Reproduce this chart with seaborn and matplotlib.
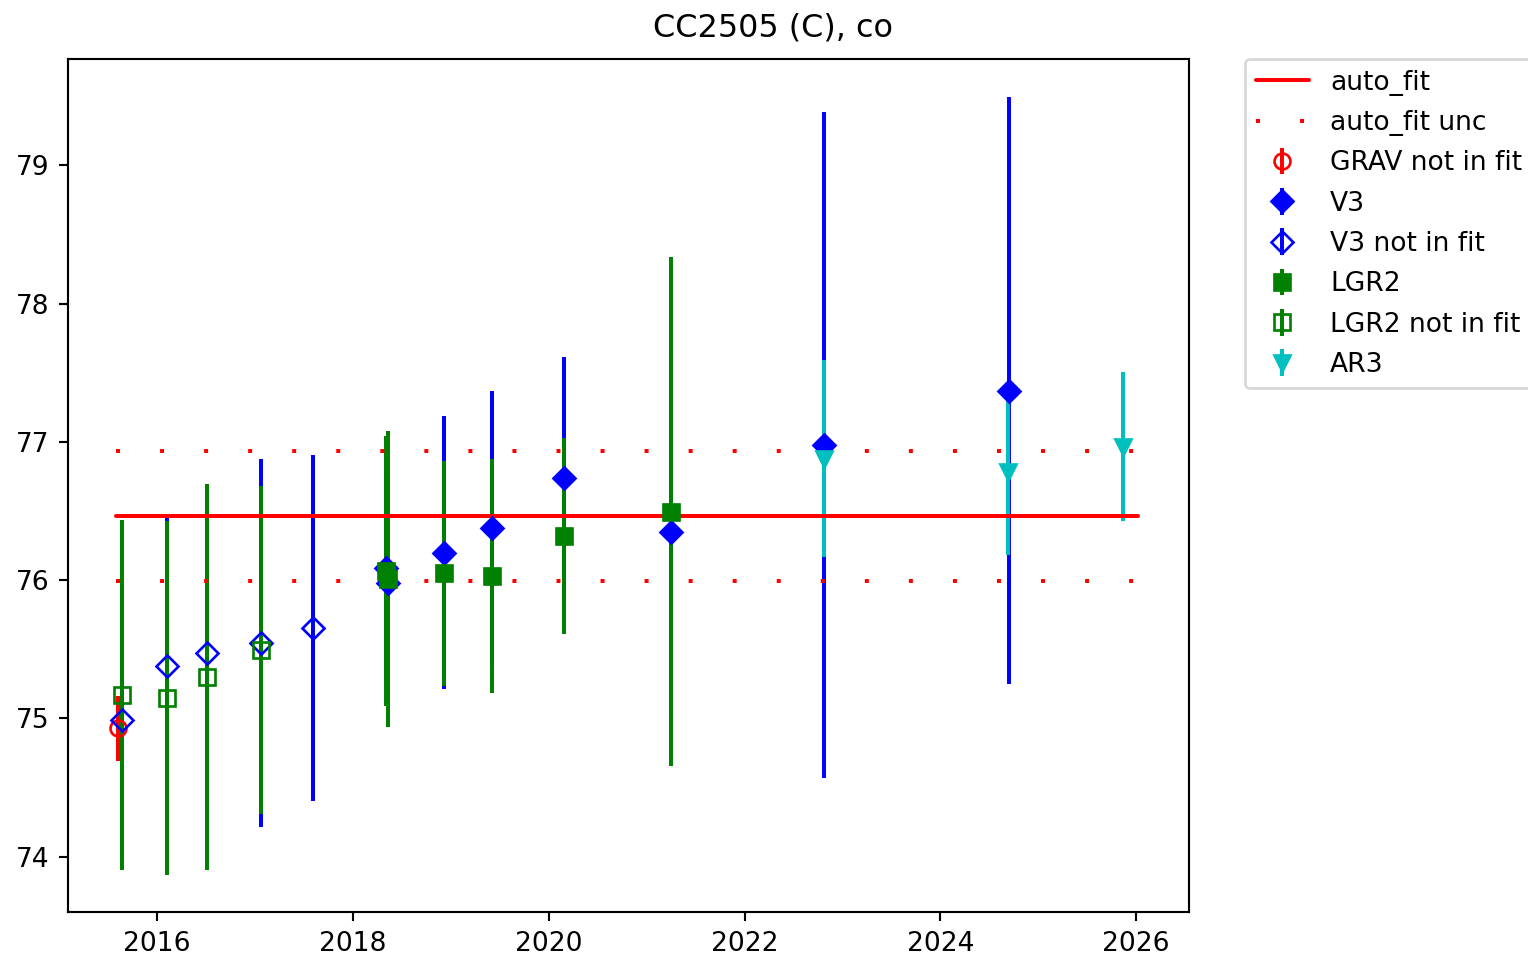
import matplotlib
matplotlib.use("Agg")
import matplotlib.pyplot as plt
import seaborn as sns

# ---- data -------------------------------------------------------------
title = "CC2505 (C), co"

fit_x = [2015.58, 2026.02]
fit_value = 76.465
fit_unc = 0.4725

grav_nf_x = [2015.605]
grav_nf_y = [74.93]
grav_nf_err = [0.235]

v3_x = [2018.335, 2018.36, 2018.932, 2019.419, 2020.16, 2021.25, 2022.81, 2024.70]
v3_y = [76.085, 75.978, 76.20, 76.378, 76.74, 76.35, 76.98, 77.37]
v3_err = [0.82, 0.82, 0.99, 0.99, 0.876, 1.30, 2.41, 2.124]

v3_nf_x = [2015.64, 2016.105, 2016.514, 2017.062, 2017.597]
v3_nf_y = [74.99, 75.378, 75.477, 75.546, 75.655]
v3_nf_err = [1.00, 1.076, 1.10, 1.33, 1.25]

lgr2_x = [2018.335, 2018.36, 2018.932, 2019.419, 2020.16, 2021.247]
lgr2_y = [76.065, 76.01, 76.05, 76.03, 76.32, 76.495]
lgr2_err = [0.975, 1.07, 0.814, 0.844, 0.708, 1.84]

lgr2_nf_x = [2015.64, 2016.105, 2016.514, 2017.062]
lgr2_nf_y = [75.17, 75.15, 75.30, 75.495]
lgr2_nf_err = [1.267, 1.28, 1.393, 1.185]

ar3_x = [2022.81, 2024.696, 2025.87]
ar3_y = [76.88, 76.78, 76.966]
ar3_err = [0.711, 0.60, 0.537]

xticks = [2016, 2018, 2020, 2022, 2024, 2026]
yticks = [74, 75, 76, 77, 78, 79]

# ---- style ------------------------------------------------------------
sns.set_theme(
    style="ticks",
    color_codes=False,
    rc={
        "axes.edgecolor": "black",
        "axes.linewidth": 0.8,
        "text.color": "black",
        "axes.labelcolor": "black",
        "xtick.color": "black",
        "ytick.color": "black",
        "xtick.major.size": 3.5,
        "ytick.major.size": 3.5,
        "xtick.major.width": 0.8,
        "ytick.major.width": 0.8,
        "font.size": 10,
        "xtick.labelsize": 10,
        "ytick.labelsize": 10,
        "axes.titlesize": 12,
        "legend.fontsize": 10,
        "lines.linewidth": 1.5,
        "lines.markersize": 6,
        "axes.spines.top": True,
        "axes.spines.right": True,
    },
)
plt.rcParams["font.family"] = ["DejaVu Sans"]

RED = "#ff0000"
BLUE = "#0000ff"
GREEN = "#008000"
CYAN = "#00bfbf"

DPI = 191
fig = plt.figure(figsize=(1529 / DPI, 957 / DPI), dpi=DPI)
ax = fig.add_axes([68 / 1529, 1 - 912 / 957, (1189 - 68) / 1529, (912 - 59) / 957])

# ---- measurements with error bars --------------------------------------
ax.errorbar(grav_nf_x, grav_nf_y, yerr=grav_nf_err, fmt="o", color=RED,
            mfc="none", label="GRAV not in fit")
ax.errorbar(v3_x, v3_y, yerr=v3_err, fmt="D", color=BLUE, label="V3")
ax.errorbar(v3_nf_x, v3_nf_y, yerr=v3_nf_err, fmt="D", color=BLUE,
            mfc="none", label="V3 not in fit")
ax.errorbar(lgr2_x, lgr2_y, yerr=lgr2_err, fmt="s", color=GREEN, label="LGR2")
ax.errorbar(lgr2_nf_x, lgr2_nf_y, yerr=lgr2_nf_err, fmt="s", color=GREEN,
            mfc="none", label="LGR2 not in fit")
ax.errorbar(ar3_x, ar3_y, yerr=ar3_err, fmt="v", color=CYAN, label="AR3")

# ---- fitted value and its uncertainty band -----------------------------
sns.lineplot(x=fit_x, y=[fit_value] * 2, color=RED, label="auto_fit",
             ax=ax, legend=False)
loose_dots = (0, (1, 10.07))
sns.lineplot(x=fit_x, y=[fit_value + fit_unc] * 2, color=RED,
             linestyle=loose_dots, label="auto_fit unc", ax=ax, legend=False)
sns.lineplot(x=fit_x, y=[fit_value - fit_unc] * 2, color=RED,
             linestyle=loose_dots, ax=ax, legend=False)

ax.set_xlim(2015.09, 2026.54)
ax.set_ylim(73.60, 79.77)
ax.set_xticks(xticks)
ax.set_xticklabels([str(t) for t in xticks])
ax.set_yticks(yticks)
ax.set_yticklabels([str(t) for t in yticks])
ax.set_xlabel("")
ax.set_ylabel("")
ax.set_title(title, x=(773 - 68) / 1121, pad=8.3)

ax.legend(bbox_to_anchor=(1.05, 1), loc="upper left", borderaxespad=0.0,
          labelspacing=0.54, frameon=True, fancybox=True, framealpha=0.8,
          edgecolor="0.8")

fig.savefig("out.png", dpi=DPI)
